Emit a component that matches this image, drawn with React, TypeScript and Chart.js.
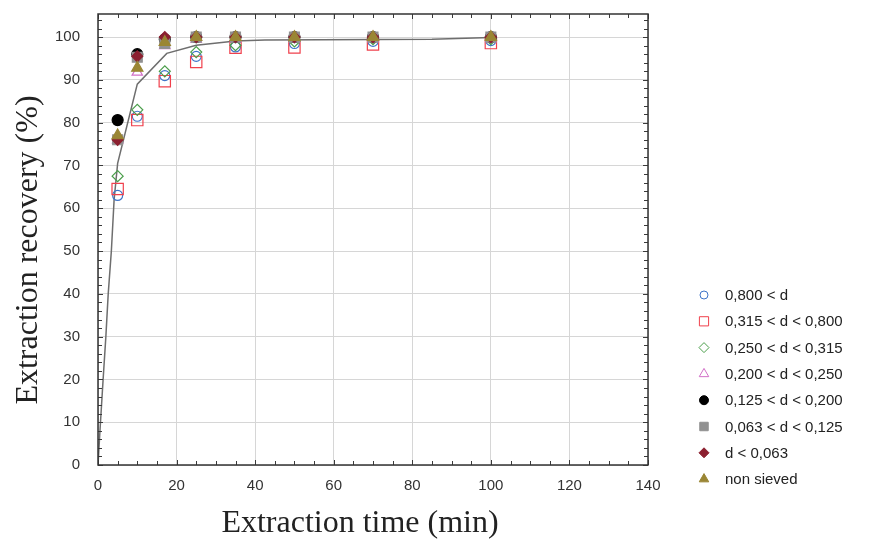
import React, { useEffect, useRef } from 'react';
import { Chart, registerables } from 'chart.js';
import { drawPoint } from 'chart.js/helpers';

Chart.register(...registerables);

const times = [5, 10, 17, 25, 35, 50, 70, 100];
const d800 = [63, 81.5, 91, 95.5, 97.7, 98.5, 99, 99.2];
const d315to800 = [64.5, 80.6, 89.7, 94.2, 97.5, 97.6, 98.3, 98.6];
const d250to315 = [67.5, 83, 92, 96.5, 98.1, 99, 99.5, 99.5];
const d200to250 = [76, 91.8, 98, 99.5, 99.5, 99.6, 99.6, 99.6];
const d125to200 = [80.6, 96, 99.5, 100, 100, 100, 100, 100];
const d063to125 = [76, 95.3, 98.5, 100, 100, 100, 100, 100];
const d063 = [76, 95.5, 100, 100, 100, 100, 100, 100];
const nonSieved = [77, 92.8, 98.8, 100, 100, 100, 100, 100];

const fitTimes = [0, 0.5, 1.3, 2, 2.6, 3.4, 4.1, 5, 10, 17.5, 25, 35, 42.5, 85, 100];
const fitValues = [0, 8, 20, 30, 40, 50, 62, 70.5, 89, 96.2, 98.1, 99.1, 99.3, 99.5, 99.9];

const seriesLabels = [
  '0,800 < d',
  '0,315 < d < 0,800',
  '0,250 < d < 0,315',
  '0,200 < d < 0,250',
  '0,125 < d < 0,200',
  '0,063 < d < 0,125',
  'd < 0,063',
  'non sieved',
];
const seriesValues = [d800, d315to800, d250to315, d200to250, d125to200, d063to125, d063, nonSieved];
const xTicks = [0, 20, 40, 60, 80, 100, 120, 140];
const yTicks = [0, 10, 20, 30, 40, 50, 60, 70, 80, 90, 100];
const xTitle = 'Extraction time (min)';
const yTitle = 'Extraction recovery (%)';

const styles = [
  { pointStyle: 'circle', radius: 5, stroke: '#3f74c8', fill: 'rgba(0,0,0,0)', lr: 4 },
  { pointStyle: 'rect', radius: 8, stroke: '#f0404c', fill: 'rgba(0,0,0,0)', lr: 6.5 },
  { pointStyle: 'rectRot', radius: 5.5, stroke: '#4a9e4a', fill: 'rgba(0,0,0,0)', lr: 5 },
  { pointStyle: 'triangle', radius: 6, stroke: '#d270c8', fill: 'rgba(0,0,0,0)', lr: 5.5 },
  { pointStyle: 'circle', radius: 5.5, stroke: '#000000', fill: '#000000', lr: 4.5 },
  { pointStyle: 'rect', radius: 7, stroke: '#919191', fill: '#919191', lr: 6 },
  { pointStyle: 'rectRot', radius: 5.5, stroke: '#8c2030', fill: '#8c2030', lr: 5 },
  { pointStyle: 'triangle', radius: 6.5, stroke: '#9a8634', fill: '#9a8634', lr: 5.5 },
];

const TITLE_FONT = '32px "Liberation Serif", "Times New Roman", serif';

const framePlugin = {
  id: 'frameTicks',
  afterDatasetsDraw(chart: any) {
    const { ctx, chartArea: a, scales } = chart;
    const xs = scales.x;
    const ys = scales.y;
    ctx.save();
    ctx.strokeStyle = '#3a3a3a';
    ctx.lineWidth = 1;
    ctx.beginPath();
    for (let v = 0; v <= 140; v += 5) {
      const px = Math.round(xs.getPixelForValue(v)) + 0.5;
      const len = v % 20 === 0 ? 5 : 4;
      ctx.moveTo(px, a.bottom);
      ctx.lineTo(px, a.bottom - len);
      ctx.moveTo(px, a.top);
      ctx.lineTo(px, a.top + len);
    }
    for (let v = 0; v <= 104; v += 2) {
      const py = Math.round(ys.getPixelForValue(v)) + 0.5;
      const len = v % 10 === 0 ? 5 : 4;
      ctx.moveTo(a.left, py);
      ctx.lineTo(a.left + len, py);
      ctx.moveTo(a.right, py);
      ctx.lineTo(a.right - len, py);
    }
    ctx.stroke();
    ctx.lineWidth = 1.5;
    ctx.strokeStyle = '#333333';
    ctx.strokeRect(a.left, a.top, a.right - a.left, a.bottom - a.top);
    ctx.restore();
  },
  afterDraw(chart: any) {
    const { ctx } = chart;
    ctx.save();
    // axis titles
    ctx.font = TITLE_FONT;
    ctx.fillStyle = '#222222';
    ctx.textAlign = 'center';
    ctx.textBaseline = 'middle';
    ctx.fillText(xTitle, 360, 524);
    ctx.save();
    ctx.translate(29, 250);
    ctx.rotate(-Math.PI / 2);
    ctx.fillText(yTitle, 0, 0);
    ctx.restore();
    // legend
    ctx.font = '15px "Liberation Sans", Arial, sans-serif';
    ctx.textBaseline = 'middle';
    ctx.textAlign = 'left';
    const x0 = 704;
    const y0 = 295;
    const dy = 26.3;
    seriesLabels.forEach((label, i) => {
      const s = styles[i];
      const y = y0 + i * dy;
      ctx.strokeStyle = s.stroke;
      ctx.fillStyle = s.fill;
      ctx.lineWidth = 1;
      drawPoint(ctx, { pointStyle: s.pointStyle, radius: s.lr, borderWidth: 1, rotation: 0 } as any, x0, y);
      ctx.fillStyle = '#222222';
      ctx.fillText(label, 725, y + 1);
    });
    ctx.restore();
  },
};

export default function App() {
  const ref = useRef<HTMLCanvasElement | null>(null);
  useEffect(() => {
    if (!ref.current) return;
    const datasets: any[] = seriesLabels.map((label, i) => ({
      type: 'scatter',
      label,
      data: times.map((t, j) => ({ x: t, y: seriesValues[i][j] })),
      pointStyle: styles[i].pointStyle,
      pointRadius: styles[i].radius,
      pointBorderColor: styles[i].stroke,
      pointBackgroundColor: styles[i].fill,
      pointBorderWidth: 1.2,
      showLine: false,
      order: 8 - i,
    }));
    datasets.push({
      type: 'line',
      label: 'fit',
      data: fitTimes.map((t, j) => ({ x: t, y: fitValues[j] })),
      borderColor: '#6e6e6e',
      borderWidth: 1.5,
      pointRadius: 0,
      fill: false,
      tension: 0,
      order: 20,
    });
    const chart = new Chart(ref.current, {
      type: 'scatter',
      data: { datasets },
      options: {
        animation: false,
        responsive: false,
        layout: { autoPadding: false, padding: { left: 0, right: 227, top: 14, bottom: 0 } },
        plugins: { legend: { display: false }, tooltip: { enabled: false } },
        scales: {
          x: {
            type: 'linear',
            min: 0,
            max: 140,
            afterBuildTicks: (s: any) => {
              s.ticks = xTicks.map((v) => ({ value: v }));
            },
            afterFit: (s: any) => {
              s.height = 77;
              s.paddingLeft = 0;
              s.paddingRight = 0;
            },
            grid: { color: '#d6d6d6', drawTicks: false, lineWidth: 1 },
            border: { display: false },
            ticks: {
              padding: 12,
              color: '#333333',
              font: { family: '"Liberation Sans", Arial, sans-serif', size: 15 },
              maxRotation: 0,
            },
          },
          y: {
            type: 'linear',
            min: 0,
            max: 105.4,
            afterBuildTicks: (s: any) => {
              s.ticks = yTicks.map((v) => ({ value: v }));
            },
            afterFit: (s: any) => {
              s.width = 98;
              s.paddingTop = 0;
              s.paddingBottom = 0;
            },
            grid: { color: '#d6d6d6', drawTicks: false, lineWidth: 1 },
            border: { display: false },
            ticks: {
              padding: 18,
              color: '#333333',
              font: { family: '"Liberation Sans", Arial, sans-serif', size: 15 },
            },
          },
        },
      },
      plugins: [framePlugin],
    });
    return () => chart.destroy();
  }, []);
  return (
    <div style={{ position: 'absolute', left: 0, top: 0, width: 875, height: 542, background: '#ffffff' }}>
      <canvas ref={ref} width={875} height={542} style={{ display: 'block' }} />
    </div>
  );
}
